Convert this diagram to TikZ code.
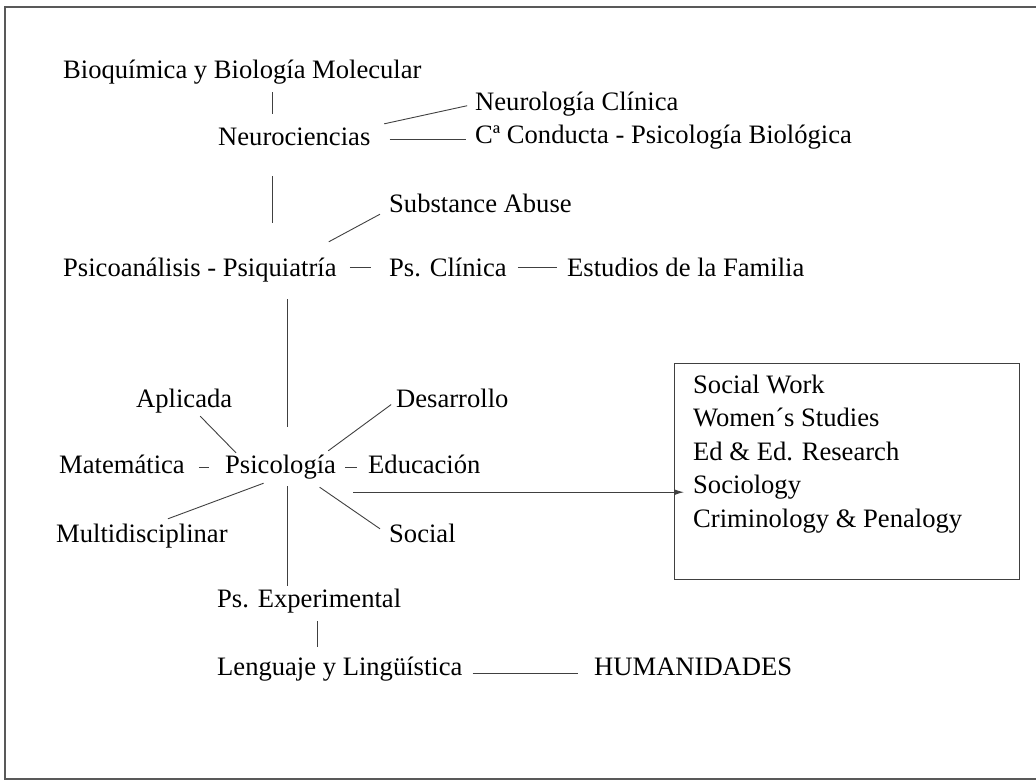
\documentclass[tikz,border=0pt]{standalone}
\usepackage{fontspec}
\setmainfont{Liberation Serif}
\usetikzlibrary{arrows.meta}

\begin{document}
\begin{tikzpicture}[x=1pt,y=-1pt,
  lbl/.style={anchor=base west,inner sep=0pt,text height=18pt,text depth=6pt,font=\fontsize{26.6}{31}\selectfont,text=black},
  conn/.style={draw=black!75,line width=0.9pt},
  frm/.style={draw=black!65,line width=1.6pt},
  arw/.style={conn,-{Latex[length=10pt,width=6pt]}}]
\useasboundingbox (0,0) rectangle (1036,780);
\draw[frm] (1040,7) -- (5,7) -- (5,779) -- (1040,779);

\node[lbl] (bio) at (63,78) {Bioquímica y Biología Molecular};
\node[lbl] (neu) at (218,145) {Neurociencias};
\node[lbl] (neuc) at (475,110) {Neurología Clínica};
\node[lbl] (cond) at (475,143) {Cª Conducta - Psicología Biológica};
\node[lbl] (sub) at (389,212) {Substance Abuse};
\node[lbl] (psq) at (63,276) {Psicoanálisis - Psiquiatría};
\node[lbl] (psc) at (389,276) {Ps. Clínica};
\node[lbl] (fam) at (567,276) {Estudios de la Familia};
\node[lbl] (apl) at (136,407) {Aplicada};
\node[lbl] (des) at (396,407) {Desarrollo};
\node[lbl] (mat) at (59,473) {Matemática};
\node[lbl] (psi) at (225,473) {Psicología};
\node[lbl] (edu) at (368,473) {Educación};
\node[lbl] (mul) at (56,542) {Multidisciplinar};
\node[lbl] (soc) at (389,542) {Social};
\node[lbl] (exp) at (217,607) {Ps. Experimental};
\node[lbl] (len) at (217,675) {Lenguaje y Lingüística};
\node[lbl] (hum) at (594,675) {HUMANIDADES};

\node[conn,anchor=north west,minimum width=345pt,minimum height=216pt,inner sep=0pt] (box) at (674,363) {};
\foreach \t [count=\i] in {Social Work,Women´s Studies,Ed \& Ed. Research,Sociology,Criminology \& Penalogy}
  \node[lbl] (area\i) at (693,{393+33.5*(\i-1)}) {\t};

\draw[conn,shorten >=8pt] ([xshift=-22pt,yshift=13pt]neu.north) -- ([xshift=-22pt]neu.north |- bio.south);
\draw[conn,shorten <=14pt,shorten >=8pt] (neu.north east) -- (neuc.west);
\draw[conn,shorten <=19pt,shorten >=9pt] (neu.east) -- (neu.east -| cond.west);
\draw[conn,shorten <=25pt,shorten >=35pt] ([xshift=-22pt]neu.south) -- ([xshift=-22pt]neu.south |- psq.north);
\draw[conn] ([shift={(-8,-16)}]psq.north east) -- ([shift={(-9,-4)}]sub.south west);
\draw[conn,shorten <=13pt,shorten >=18pt] ([yshift=3pt]psq.east) -- ([yshift=3pt]psq.east -| psc.west);
\draw[conn,shorten <=11pt,shorten >=10pt] ([yshift=3pt]psc.east) -- ([yshift=3pt]psc.east -| fam.west);
\draw[conn,shorten <=28pt,shorten >=17pt] ([xshift=7pt]psi.north) -- ([xshift=7pt]psi.north |- psq.south);

\draw[conn] ([xshift=16pt,yshift=-3pt]apl.south) -- ([shift={(11,-2)}]psi.north west);
\draw[conn,shorten <=6pt] (des.west) -- ([shift={(-8,-4)}]psi.north east);
\draw[conn,shorten <=14pt,shorten >=16pt] (mat.east) -- (mat.east -| psi.west);
\draw[conn,shorten <=9pt,shorten >=11pt] (psi.east) -- (psi.east -| edu.west);
\draw[conn] ([shift={(26,-5)}]mul.north) -- ([shift={(-17,4)}]psi.south);
\draw[conn] ([shift={(-9,5)}]soc.north west) -- ([shift={(39,8)}]psi.south);
\draw[conn,shorten <=7pt,shorten >=3pt] ([xshift=7pt]psi.south) -- ([xshift=7pt]psi.south |- exp.north);
\draw[conn,shorten <=8pt,shorten >=10pt] ([xshift=8pt]exp.south) -- ([xshift=8pt]exp.south |- len.north);
\draw[conn,shorten <=10pt,shorten >=16pt] ([yshift=-4pt]len.east) -- ([yshift=-4pt]len.east -| hum.west);
\draw[arw,shorten >=7pt] ([shift={(17,13)}]psi.south east) -- ([shift={(17,13)}]psi.south east -| box.west);
\end{tikzpicture}
\end{document}
